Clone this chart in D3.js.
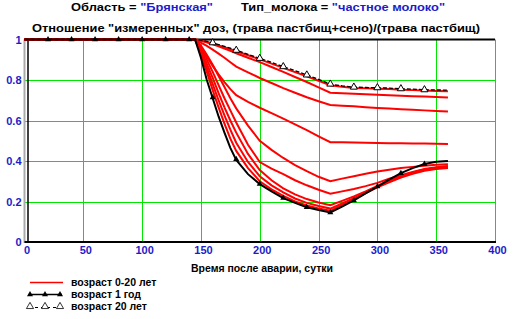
<!DOCTYPE html>
<html><head><meta charset="utf-8">
<script src="https://cdn.jsdelivr.net/npm/d3@7"></script>
<style>html,body{margin:0;padding:0;background:#fff;} svg{display:block;}</style>
</head><body>
<svg id="chart" width="515" height="319"></svg>
<script>
// ---- data ----
const days  = [0,145,150,155,160,165,170,175,180,190,200,210,220,230,240,250,260,270,280,290,300,310,320,330,340,350,360];
const age1  = [1,1,0.91,0.80,0.71,0.62,0.54,0.465,0.405,0.335,0.286,0.25,0.217,0.193,0.172,0.158,0.146,0.175,0.205,0.24,0.274,0.308,0.34,0.365,0.385,0.396,0.40];
const age20 = [1,1,0.997,0.991,0.984,0.975,0.966,0.957,0.947,0.927,0.907,0.887,0.866,0.846,0.825,0.803,0.78,0.771,0.765,0.763,0.762,0.76,0.757,0.755,0.752,0.751,0.75];
const red1 = [1,1,0.995,0.988,0.98,0.971,0.962,0.952,0.942,0.922,0.902,0.881,0.86,0.839,0.818,0.796,0.774,0.767,0.761,0.759,0.757,0.755,0.752,0.75,0.748,0.746,0.745];
const red2 = [1,1,0.994,0.986,0.976,0.966,0.955,0.944,0.932,0.91,0.888,0.864,0.84,0.815,0.79,0.764,0.737,0.735,0.732,0.73,0.727,0.725,0.722,0.72,0.718,0.716,0.714];
const red3 = [1,1,0.985,0.968,0.95,0.93,0.91,0.888,0.866,0.838,0.81,0.785,0.76,0.737,0.715,0.695,0.677,0.673,0.67,0.666,0.662,0.659,0.656,0.653,0.65,0.647,0.645];
const red4 = [1,1,0.96,0.915,0.87,0.828,0.79,0.755,0.725,0.692,0.663,0.636,0.609,0.581,0.552,0.522,0.493,0.492,0.491,0.49,0.489,0.488,0.488,0.487,0.486,0.485,0.484];
const red5 = [1,1,0.97,0.925,0.875,0.82,0.765,0.71,0.66,0.575,0.5,0.455,0.415,0.38,0.35,0.322,0.30,0.313,0.325,0.337,0.348,0.357,0.365,0.371,0.377,0.381,0.384];
const red6 = [1,1,0.96,0.9,0.84,0.775,0.71,0.65,0.59,0.48,0.395,0.362,0.335,0.305,0.28,0.258,0.238,0.25,0.262,0.276,0.292,0.312,0.33,0.346,0.36,0.369,0.375];
const red7 = [1,1,0.95,0.88,0.81,0.735,0.665,0.6,0.54,0.435,0.355,0.305,0.265,0.235,0.212,0.195,0.182,0.203,0.225,0.25,0.277,0.302,0.326,0.344,0.358,0.367,0.372];
const red8 = [1,1,0.94,0.86,0.78,0.70,0.625,0.555,0.49,0.395,0.325,0.28,0.245,0.215,0.193,0.178,0.165,0.19,0.216,0.244,0.272,0.298,0.322,0.341,0.355,0.364,0.369];
const red9 = [1,1,0.93,0.84,0.75,0.665,0.585,0.51,0.45,0.365,0.30,0.26,0.228,0.2,0.18,0.166,0.154,0.183,0.212,0.241,0.27,0.295,0.318,0.337,0.352,0.361,0.366];
const redSeries = [red1,red2,red3,red4,red5,red6,red7,red8,red9];

const age1MarkerDays = [20,40,60,80,100,120,140,160,180,200,220,240,260,280,300,320,340];
const age1Markers    = [1,1,1,1,1,1,1,0.713,0.409,0.286,0.217,0.172,0.146,0.205,0.274,0.34,0.385];
const age20MarkerDays = [160,180,200,220,240,260,280,300,320,340];
const age20Markers    = [0.984,0.947,0.907,0.866,0.825,0.78,0.765,0.762,0.757,0.752];

const xTicks = [0,50,100,150,200,250,300,350,400];
const yTicks = [0,0.2,0.4,0.6,0.8,1];
const yTickLabels = ["0","0.2","0.4","0.6","0.8","1"];
const legendLabels = ["возраст 0-20 лет","возраст 1 год","возраст 20 лет"];
const xTitle = "Время после аварии, сутки";
const chartTitle = "Отношение \"измеренных\" доз, (трава пастбищ+сено)/(трава пастбищ)";

// ---- drawing ----
const svg = d3.select("#chart");
const FONT = "'Liberation Sans', Arial, sans-serif";
const BLUE = "#1c1cc8";
const x = d3.scaleLinear().domain([0,400]).range([24.5,495]);
const y = d3.scaleLinear().domain([0,1]).range([242,39.5]);

// header
const h1 = svg.append("text").attr("x",71).attr("y",11)
  .attr("font-family",FONT).attr("font-weight","bold").attr("font-size",11)
  .attr("textLength",142).attr("lengthAdjust","spacingAndGlyphs");
h1.append("tspan").attr("fill","#000").text("Область = ");
h1.append("tspan").attr("fill",BLUE).text("\"Брянская\"");
const h1b = svg.append("text").attr("x",241).attr("y",11)
  .attr("font-family",FONT).attr("font-weight","bold").attr("font-size",11)
  .attr("textLength",204).attr("lengthAdjust","spacingAndGlyphs");
h1b.append("tspan").attr("fill","#000").text("Тип_молока = ");
h1b.append("tspan").attr("fill",BLUE).text("\"частное молоко\"");
svg.append("text").attr("x",32).attr("y",31.5)
  .attr("font-family",FONT).attr("font-weight","bold").attr("font-size",11.5)
  .attr("textLength",448).attr("lengthAdjust","spacingAndGlyphs")
  .text(chartTitle);

// grid
const grid = svg.append("g").attr("stroke","#00e600").attr("stroke-width",1);
grid.selectAll("line.v").data(xTicks.slice(1)).join("line")
  .attr("x1",d=>Math.round(x(d))+0.5).attr("x2",d=>Math.round(x(d))+0.5)
  .attr("y1",y(1)).attr("y2",y(0));
grid.selectAll("line.h").data(yTicks.slice(1,-1)).join("line")
  .attr("y1",d=>Math.round(y(d))+0.5).attr("y2",d=>Math.round(y(d))+0.5)
  .attr("x1",x(0)).attr("x2",x(400));

// frame
svg.append("line").attr("x1",x(0)).attr("x2",x(0)).attr("y1",y(1)).attr("y2",y(0)+1)
  .attr("stroke","#aaa").attr("stroke-width",2);
svg.append("line").attr("x1",x(0)+3.5).attr("x2",x(0)+3.5).attr("y1",y(1)).attr("y2",y(0)+1)
  .attr("stroke","#000").attr("stroke-width",1.5);
svg.append("line").attr("x1",x(0)).attr("x2",x(400)+1).attr("y1",y(0)).attr("y2",y(0))
  .attr("stroke","#000").attr("stroke-width",2);
svg.append("line").attr("x1",x(0)+3).attr("x2",x(400)).attr("y1",y(1)).attr("y2",y(1))
  .attr("stroke","#000").attr("stroke-width",2);

// axes labels
const yAxis = d3.axisLeft(y).tickValues(yTicks).tickFormat((d,i)=>yTickLabels[i]).tickSize(0).tickPadding(3);
const gy = svg.append("g").attr("transform",`translate(${x(0)},0)`).call(yAxis);
gy.select(".domain").remove();
gy.selectAll("text").attr("font-family",FONT).attr("font-weight","bold").attr("font-size",11).attr("fill",BLUE);

const xAxis = d3.axisBottom(x).tickValues(xTicks).tickFormat(d3.format("d")).tickSize(0).tickPadding(4);
const gx = svg.append("g").attr("transform",`translate(0,${y(0)})`).call(xAxis);
gx.select(".domain").remove();
gx.selectAll("text").attr("font-family",FONT).attr("font-weight","bold").attr("font-size",11).attr("fill",BLUE).attr("dx",2);

svg.append("text").attr("x",262).attr("y",271.5).attr("text-anchor","middle")
  .attr("font-family",FONT).attr("font-weight","bold").attr("font-size",10.5).text(xTitle);

// lines
const line = d3.line().x(d=>x(d[0])).y(d=>y(d[1]));
const plot = svg.append("g");
plot.selectAll("path.red").data(redSeries).join("path")
  .attr("fill","none").attr("stroke","#ff0000").attr("stroke-width",2)
  .attr("d",s=>line(days.map((d,i)=>[d,s[i]])));
plot.append("path").attr("fill","none").attr("stroke","#000").attr("stroke-width",2)
  .attr("d",line(days.map((d,i)=>[d,age1[i]])));
plot.append("path").attr("fill","none").attr("stroke","#000").attr("stroke-width",1.3)
  .attr("stroke-dasharray","4,2")
  .attr("d",line(days.map((d,i)=>[d,age20[i]])));

const triFilled = d3.symbol().type(d3.symbolTriangle).size(16);
const triOpen = d3.symbol().type(d3.symbolTriangle).size(22);
plot.selectAll("path.m1").data(age1MarkerDays).join("path")
  .attr("d",triFilled()).attr("fill","#000")
  .attr("transform",(d,i)=>`translate(${x(d)},${y(age1Markers[i])})`);
plot.selectAll("path.m20").data(age20MarkerDays).join("path")
  .attr("d",triOpen()).attr("fill","#fff").attr("stroke","#000").attr("stroke-width",1)
  .attr("transform",(d,i)=>`translate(${x(d)},${y(age20Markers[i])})`);

// legend
const lg = svg.append("g");
const rows = [282.5, 294.5, 306.5];
lg.append("line").attr("x1",30).attr("x2",63).attr("y1",rows[0]).attr("y2",rows[0]).attr("stroke","#ff0000").attr("stroke-width",1.5);
lg.append("line").attr("x1",29).attr("x2",62).attr("y1",rows[1]).attr("y2",rows[1]).attr("stroke","#000").attr("stroke-width",1.5);
lg.selectAll("path.lm1").data([30,45,60]).join("path").attr("d",triFilled()).attr("fill","#000")
  .attr("transform",d=>`translate(${d},${rows[1]})`);
lg.append("line").attr("x1",29).attr("x2",62).attr("y1",rows[2]+1).attr("y2",rows[2]+1).attr("stroke","#000").attr("stroke-width",1).attr("stroke-dasharray","3,3");
lg.selectAll("path.lm2").data([30,45,60]).join("path").attr("d",triOpen()).attr("fill","#fff").attr("stroke","#000").attr("stroke-width",0.8)
  .attr("transform",d=>`translate(${d},${rows[2]})`);
lg.selectAll("text").data(legendLabels).join("text")
  .attr("x",71).attr("y",(d,i)=>rows[i]+3.5)
  .attr("font-family",FONT).attr("font-weight","bold").attr("font-size",10.5).text(d=>d);
</script>
</body></html>
